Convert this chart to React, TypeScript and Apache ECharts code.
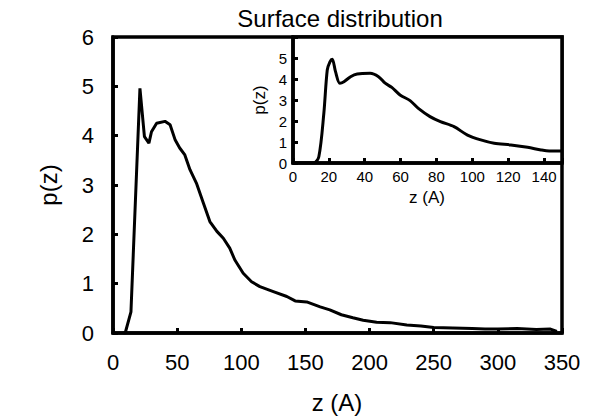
import React, { useEffect, useRef } from "react";
import * as echarts from "echarts";

const mainZ = [8, 9.5, 14, 21, 24.5, 28, 30, 34, 40.5, 44.5, 48.5, 52, 56, 60, 65, 70.5, 75.5, 81, 86, 91, 95, 101.5, 108, 114.5, 125, 135.5, 142, 151, 161.5, 169, 178, 187, 195, 205.5, 216, 229, 240, 250, 265, 280, 290, 300, 315, 330, 341, 346];
const mainP = [0, 0, 0.43, 4.96, 3.98, 3.85, 4.08, 4.25, 4.29, 4.22, 3.91, 3.75, 3.61, 3.31, 3.04, 2.63, 2.26, 2.06, 1.92, 1.72, 1.48, 1.21, 1.04, 0.94, 0.84, 0.74, 0.65, 0.63, 0.53, 0.47, 0.37, 0.31, 0.26, 0.22, 0.21, 0.16, 0.14, 0.11, 0.1, 0.09, 0.08, 0.08, 0.09, 0.07, 0.08, 0.03];

const insetZ = [0, 11.5, 14.4, 17.2, 19.1, 20.6, 21.9, 23.7, 26.1, 28.4, 32.1, 35.8, 43, 47.7, 51.4, 55.1, 59.7, 65.3, 69.9, 76.4, 82.2, 89.8, 97.3, 104.7, 112.2, 121.5, 130.8, 138.3, 142.9, 150];
const insetP = [0, 0, 0.3, 2.37, 4.43, 4.82, 4.94, 4.35, 3.8, 3.87, 4.11, 4.24, 4.27, 4.11, 3.8, 3.6, 3.24, 2.97, 2.6, 2.21, 1.97, 1.73, 1.33, 1.1, 0.94, 0.86, 0.75, 0.62, 0.57, 0.57];

const titleText = "Surface distribution";
const xName = "z (A)";
const yName = "p(z)";

const FONT = "Liberation Sans, Arial, Helvetica, sans-serif";

export default function App() {
  const ref = useRef<HTMLDivElement>(null);
  useEffect(() => {
    document.body.style.margin = "0";
    if (!ref.current) return;
    const chart = echarts.init(ref.current, null, { renderer: "svg" });
    const axisLine = { show: true, lineStyle: { color: "#000", width: 3.5 } };
    const tick = { show: true, inside: true, length: 5, lineStyle: { color: "#000", width: 3 } };
    chart.setOption({
      animation: false,
      backgroundColor: "#fff",
      textStyle: { fontFamily: FONT },
      grid: [
        { left: 113, right: 38, top: 37, bottom: 87, show: true, borderColor: "#000", borderWidth: 3.5, backgroundColor: "#fff" },
        { left: 293, right: 38, top: 37, bottom: 257, show: true, borderColor: "#000", borderWidth: 3.5, backgroundColor: "#fff", z: 5 },
      ],
      xAxis: [
        {
          gridIndex: 0, type: "value", min: 0, max: 350, interval: 50,
          axisLine, axisTick: tick, splitLine: { show: false },
          axisLabel: { color: "#000", fontSize: 22, fontFamily: FONT, margin: 18 },
        },
        {
          gridIndex: 1, type: "value", min: 0, max: 150, interval: 20, z: 6,
          axisLine, axisTick: tick, splitLine: { show: false },
          axisLabel: { color: "#000", fontSize: 15, fontFamily: FONT, margin: 6, formatter: (v: number) => (v % 20 === 0 ? String(v) : "") },
        },
      ],
      yAxis: [
        {
          gridIndex: 0, type: "value", min: 0, max: 6, interval: 1,
          axisLine, axisTick: tick, splitLine: { show: false },
          axisLabel: { color: "#000", fontSize: 22, fontFamily: FONT, margin: 19 },
        },
        {
          gridIndex: 1, type: "value", min: 0, max: 6, interval: 1, z: 6,
          axisLine, axisTick: tick, splitLine: { show: false },
          axisLabel: { color: "#000", fontSize: 15, fontFamily: FONT, margin: 6, formatter: (v: number) => (v < 6 ? String(v) : "") },
        },
      ],
      series: [
        {
          type: "line", xAxisIndex: 0, yAxisIndex: 0, showSymbol: false, symbol: "none",
          data: mainZ.map((z, i) => [z, mainP[i]]),
          lineStyle: { color: "#000", width: 3 }, clip: true,
        },
        {
          type: "line", xAxisIndex: 1, yAxisIndex: 1, showSymbol: false, symbol: "none", smooth: 0.3, z: 7,
          data: insetZ.map((z, i) => [z, insetP[i]]),
          lineStyle: { color: "#000", width: 3 }, clip: true,
        },
      ],
      graphic: [
        { type: "text", x: 340, y: 18, style: { text: titleText, fontSize: 24, fontFamily: FONT, fill: "#000", align: "center", verticalAlign: "middle" } },
        { type: "text", x: 337, y: 402, style: { text: xName, fontSize: 24, fontFamily: FONT, fill: "#000", align: "center", verticalAlign: "middle" } },
        { type: "text", x: 48, y: 185, rotation: Math.PI / 2, style: { text: yName, fontSize: 24, fontFamily: FONT, fill: "#000", align: "center", verticalAlign: "middle" } },
        { type: "text", x: 427, y: 197, z: 10, style: { text: xName, fontSize: 17, fontFamily: FONT, fill: "#000", align: "center", verticalAlign: "middle" } },
        { type: "text", x: 259, y: 100, z: 10, rotation: Math.PI / 2, style: { text: yName, fontSize: 17, fontFamily: FONT, fill: "#000", align: "center", verticalAlign: "middle" } },
      ],
    });
    return () => chart.dispose();
  }, []);
  return <div ref={ref} style={{ width: 600, height: 420 }} />;
}
